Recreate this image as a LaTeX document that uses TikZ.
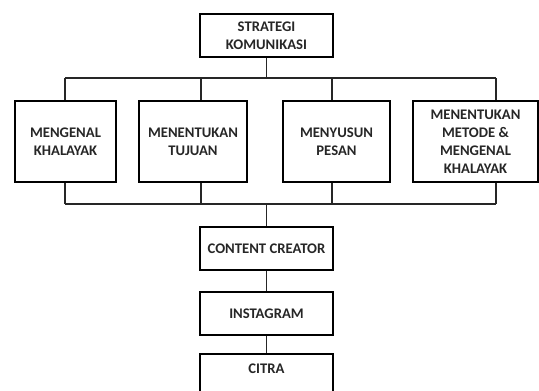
\documentclass[tikz,border=0pt]{standalone}
\usepackage{fontspec}
\setmainfont{Carlito}
\usepackage{tikz}
\usetikzlibrary{positioning,calc}
\tikzset{
  box/.style={draw, line width=0.8pt, inner sep=1pt, align=center, font=\bfseries\fontsize{11}{13.5}\selectfont, text=black!85},
  link/.style={line width=0.8pt, draw=black!85},
}

\begin{document}
\begin{tikzpicture}[x=0.75pt, y=-0.75pt]
\useasboundingbox (0,0) rectangle (539,390);
\clip (0,0) rectangle (539,390);
\node (top) [box, minimum width=133*0.75pt, minimum height=43*0.75pt] at (266.5,35.5) {STRATEGI\\KOMUNIKASI};
\node (b1)  [box, minimum width=101*0.75pt, minimum height=81*0.75pt] at (65.5,141.5) {MENGENAL\\KHALAYAK};
\node (b2)  [box, minimum width=108*0.75pt, minimum height=81*0.75pt] at (193,141.5) {MENENTUKAN\\TUJUAN};
\node (b3)  [box, minimum width=107*0.75pt, minimum height=81*0.75pt] at (336.5,141.5) {MENYUSUN\\PESAN};
\node (b4)  [box, minimum width=125*0.75pt, minimum height=81*0.75pt] at (475.5,141.5) {MENENTUKAN\\METODE \&\\MENGENAL\\KHALAYAK};
\node (cc)  [box, minimum width=133*0.75pt, minimum height=43*0.75pt] at (266.5,248.5) {CONTENT CREATOR};
\node (ig)  [box, minimum width=133*0.75pt, minimum height=43*0.75pt] at (266.5,313.5) {INSTAGRAM};
\node (ct)  [box, minimum width=133*0.75pt, minimum height=72*0.75pt, text height=7pt, text depth=32pt] at (266.5,390) {CITRA};

% upper branch
\coordinate (t1) at (65,78);
\coordinate (t2) at (201,78);
\coordinate (t3) at (332,78);
\coordinate (t4) at (496,78);
\draw[link] (t1) -- (t4);
\draw[link] (top.south) -- (top.south |- t1);
\foreach \i in {1,...,4}
  \draw[link] (t\i) -- (t\i |- b\i.north);

% lower branch
\coordinate (u1) at (65,204);
\coordinate (u4) at (496,204);
\draw[link] (u1) -- (u4);
\foreach \i in {1,...,4}
  \draw[link] (t\i |- b\i.south) -- (t\i |- u1);
\draw[link] (cc.north |- u1) -- (cc.north);
\draw[link] (cc.south) -- (ig.north);
\draw[link] (ig.south) -- (ct.north);
\end{tikzpicture}
\end{document}
